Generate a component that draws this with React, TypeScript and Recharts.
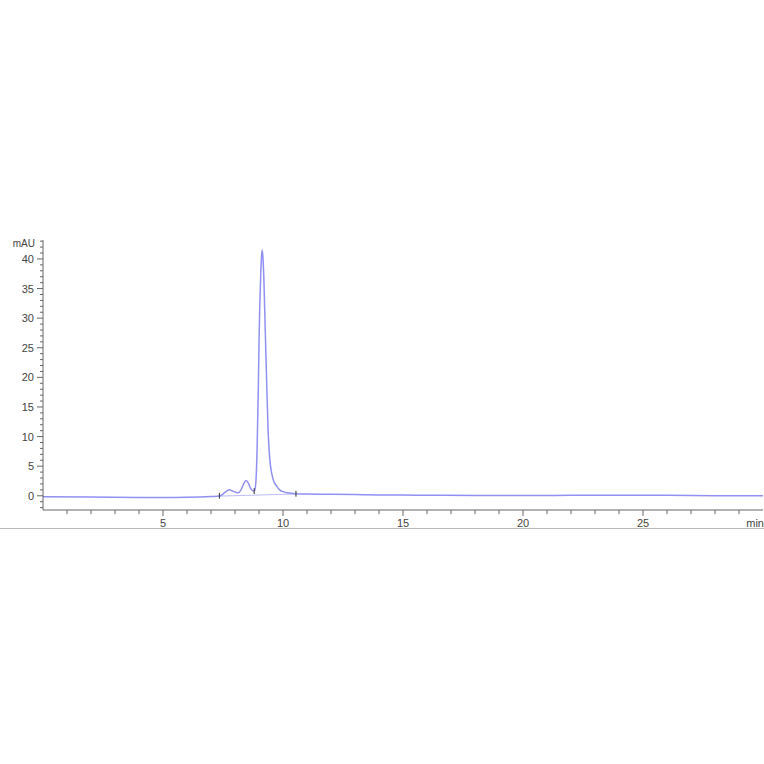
import React from 'react';
import { LineChart, Line, XAxis, YAxis, ReferenceLine } from 'recharts';

// retention time (min) and absorbance (mAU)
const times = [
    0, 2, 4, 5, 6, 7, 7.35, 7.5, 7.65, 7.76, 7.9, 8.05, 8.14, 8.25, 8.36, 8.46, 8.56, 8.66,
    8.76, 8.82, 8.85, 8.88, 8.92, 8.97, 9.01, 9.07, 9.1, 9.13, 9.16, 9.2, 9.26, 9.33, 9.38,
    9.42, 9.47, 9.53, 9.62, 9.74, 9.86, 10, 10.2, 10.54, 11, 12, 13, 14, 15, 16, 18, 20, 22,
    24, 26, 28, 30,
];
const absorbance = [
    -0.15, -0.2, -0.28, -0.3, -0.25, -0.12, -0.05, 0.3, 0.8, 1.0, 0.8, 0.55, 0.5, 1.0, 2.0, 2.6,
    2.1, 1.2, 0.8, 0.9, 1.5, 3, 7.8, 17.7, 28, 37, 40, 41.5, 40.5, 37, 28, 17.7, 11, 7.8, 5.4,
    3.8, 2.4, 1.6, 1.0, 0.7, 0.5, 0.35, 0.3, 0.25, 0.2, 0.15, 0.12, 0.1, 0.05, 0.05, 0.08, 0.1,
    0.08, 0.02, 0,
];

// integration baseline and event marks
const baselineTimes = [7.35, 10.54];
const baselineValues = [-0.05, 0.3];
const eventMarks = [7.35, 8.8, 10.54];
const eventLevels = [0, 0.8, 0.35];

const xTicks = [1, 2, 3, 4, 5, 6, 7, 8, 9, 10, 11, 12, 13, 14, 15, 16, 17, 18, 19, 20, 21, 22, 23, 24, 25, 26, 27, 28, 29, 30];
const xLabels: Record<number, string> = { 5: '5', 10: '10', 15: '15', 20: '20', 25: '25', 30: 'min' };
const yTicks = [-2, -1, 0, 1, 2, 3, 4, 5, 6, 7, 8, 9, 10, 11, 12, 13, 14, 15, 16, 17, 18, 19, 20, 21, 22, 23, 24, 25, 26, 27, 28, 29, 30, 31, 32, 33, 34, 35, 36, 37, 38, 39, 40, 41, 42, 43];
const yLabels = [0, 5, 10, 15, 20, 25, 30, 35, 40];

const PLOT_LEFT = 43;
const PLOT_BOTTOM = 510;
const TEXT = '#444';
const AXIS = '#666';
const FONT = '"Liberation Sans", Arial, sans-serif';

const trace = times.map((t, i) => ({ t, mAU: absorbance[i] }));
const baseline = baselineTimes.map((t, i) => ({ t, mAU: baselineValues[i] }));

const XTick = (props: any) => {
    const { x, payload } = props;
    const label = xLabels[payload.value];
    const major = payload.value % 5 === 0;
    const isUnit = payload.value === 30;
    return (
        <g>
            {!isUnit && (
                <line x1={x} x2={x} y1={PLOT_BOTTOM} y2={PLOT_BOTTOM + (major ? 6 : 4)} stroke={AXIS} />
            )}
            {label && (
                <text
                    x={isUnit ? 764 : x}
                    y={PLOT_BOTTOM + 17}
                    textAnchor={isUnit ? 'end' : 'middle'}
                    fontSize={11}
                    fontFamily={FONT}
                    fill={TEXT}
                >
                    {label}
                </text>
            )}
        </g>
    );
};

const YTick = (props: any) => {
    const { y, payload } = props;
    const major = yLabels.includes(payload.value);
    return (
        <g>
            <line x1={PLOT_LEFT - (major ? 6 : 3)} x2={PLOT_LEFT} y1={y} y2={y} stroke={AXIS} />
            {major && (
                <text x={PLOT_LEFT - 9} y={y + 4} textAnchor="end" fontSize={11} fontFamily={FONT} fill={TEXT}>
                    {payload.value}
                </text>
            )}
        </g>
    );
};

export default function App() {
    return (
        <div style={{ position: 'absolute', left: 0, top: 0, width: 764, height: 764, background: '#fff' }}>
            <LineChart width={764} height={764} margin={{ top: 240, right: 1, bottom: 224, left: 3 }}>
                <XAxis
                    dataKey="t"
                    type="number"
                    domain={[0, 30]}
                    ticks={xTicks}
                    interval={0}
                    height={30}
                    tickLine={false}
                    tick={<XTick />}
                    axisLine={{ stroke: AXIS }}
                    allowDataOverflow
                />
                <YAxis
                    type="number"
                    domain={[-2.4, 43.2]}
                    ticks={yTicks}
                    interval={0}
                    width={40}
                    tickLine={false}
                    tick={<YTick />}
                    axisLine={{ stroke: AXIS }}
                    allowDataOverflow
                />
                <Line
                    data={baseline}
                    dataKey="mAU"
                    type="linear"
                    stroke="#bcbcf4"
                    strokeWidth={1}
                    dot={false}
                    isAnimationActive={false}
                />
                <Line
                    data={trace}
                    dataKey="mAU"
                    type="monotone"
                    stroke="#9090f2"
                    strokeWidth={1.5}
                    dot={false}
                    isAnimationActive={false}
                />
                {eventMarks.map((m, i) => (
                    <ReferenceLine
                        key={`mark-${i}`}
                        segment={[
                            { x: m, y: eventLevels[i] - 0.5 },
                            { x: m, y: eventLevels[i] + 0.5 },
                        ]}
                        stroke="#333"
                        strokeWidth={1}
                    />
                ))}
            </LineChart>
            <div
                style={{
                    position: 'absolute',
                    left: 12,
                    top: 238,
                    width: 23,
                    textAlign: 'right',
                    fontSize: 10,
                    fontFamily: FONT,
                    color: TEXT,
                }}
            >
                mAU
            </div>
            <div style={{ position: 'absolute', left: 0, top: 528, width: 764, height: 1, background: '#bbb' }} />
        </div>
    );
}
